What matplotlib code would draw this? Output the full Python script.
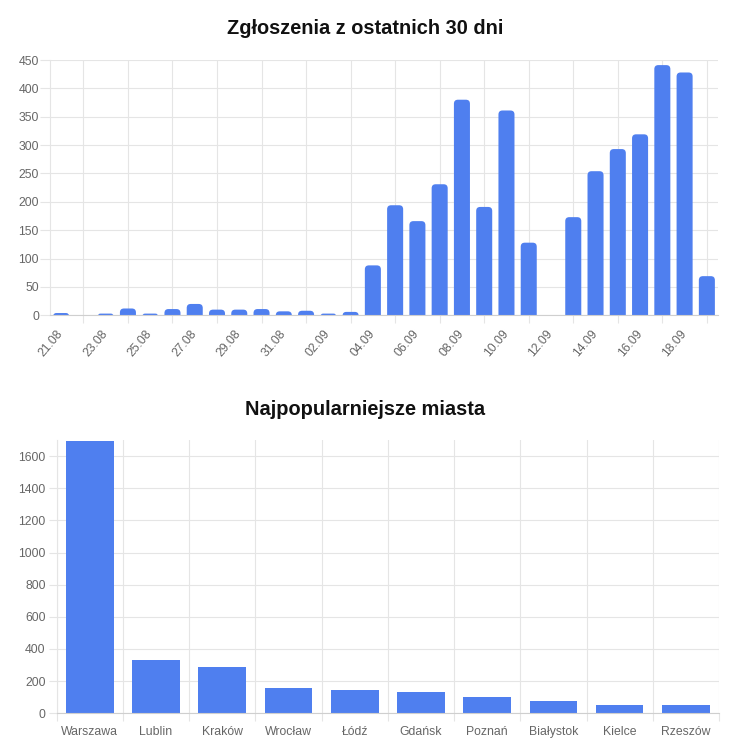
import matplotlib
matplotlib.use("Agg")
import matplotlib.pyplot as plt
from matplotlib.patches import FancyBboxPatch
import numpy as np

plt.rcParams['font.family'] = ['Liberation Sans', 'DejaVu Sans']

# ---- data ----
dates = ["21.08", "22.08", "23.08", "24.08", "25.08", "26.08", "27.08", "28.08",
         "29.08", "30.08", "31.08", "01.09", "02.09", "03.09", "04.09", "05.09",
         "06.09", "07.09", "08.09", "09.09", "10.09", "11.09", "12.09", "13.09",
         "14.09", "15.09", "16.09", "17.09", "18.09", "19.09"]
counts = [4, 0, 3, 12, 3, 11, 20, 10, 10, 11, 7, 8, 3, 6, 88, 194,
          166, 231, 380, 191, 361, 128, 0, 173, 254, 293, 319, 441, 428, 69]

cities = ["Warszawa", "Lublin", "Kraków", "Wrocław", "Łódź", "Gdańsk",
          "Poznań", "Białystok", "Kielce", "Rzeszów"]
city_counts = [1693, 331, 290, 157, 145, 133, 100, 77, 52, 50]

top_yticks = [0, 50, 100, 150, 200, 250, 300, 350, 400, 450]
bottom_yticks = [0, 200, 400, 600, 800, 1000, 1200, 1400, 1600]

BAR = "#4F7FEF"
GRID = "#e5e5e5"
AXIS = "#cfcfcf"
TXT = "#666666"
FS = 8.8
TFS = 14.4
W, H, DPI = 731, 752, 100

fig = plt.figure(figsize=(W / DPI, H / DPI), dpi=DPI)

def frac(l, t, r, b):
    return [l / W, 1 - b / H, (r - l) / W, (b - t) / H]

# ---------------- top chart ----------------
ax1 = fig.add_axes(frac(50, 60, 718, 315.3))
x = np.arange(len(dates))
ax1.set_xlim(-0.5, len(dates) - 0.5)
ax1.set_ylim(0, 450)
bars = ax1.bar(x, counts, width=0.72, color=BAR, zorder=3)

# round top corners of bars (4 px)
fig.canvas.draw()
tr = ax1.transData
px_per_x = tr.transform((1, 0))[0] - tr.transform((0, 0))[0]
px_per_y = tr.transform((0, 1))[1] - tr.transform((0, 0))[1]
aspect = px_per_x / px_per_y
r_px = 4.0
for p in list(bars.patches):
    h = p.get_height()
    if h <= 0:
        p.remove()
        continue
    bx, bw = p.get_x(), p.get_width()
    ext = r_px / px_per_y
    tot_px = (h + ext) * px_per_y
    r_eff = min(r_px, bw * px_per_x / 2, tot_px / 2)
    rp = FancyBboxPatch((bx, -ext), bw, h + ext,
                        boxstyle=f"round,pad=0,rounding_size={r_eff / px_per_x}",
                        mutation_aspect=aspect, facecolor=BAR, edgecolor='none',
                        zorder=3)
    ax1.add_patch(rp)
    p.remove()

ax1.set_yticks(top_yticks)
ax1.set_yticklabels([str(v) for v in top_yticks])
ax1.set_xticks(x[::2])
ax1.set_xticklabels(dates[::2], rotation=50, ha='right', va='center',
                    rotation_mode='anchor')
ax1.set_xticks(x[1::2], minor=True)
ax1.tick_params(axis='x', which='major', length=0, pad=12, labelsize=FS,
                labelcolor=TXT)
ax1.tick_params(axis='x', which='minor', length=6, width=0.8, color=GRID)
ax1.tick_params(axis='y', length=7, width=0.8, color=GRID, pad=1,
                labelsize=FS, labelcolor=TXT)
ax1.grid(True, axis='y', color=GRID, lw=0.8, zorder=0)
ax1.grid(True, axis='x', which='minor', color=GRID, lw=0.8, zorder=0)
for s in ['top', 'right']:
    ax1.spines[s].set_visible(False)
ax1.spines['left'].set_color(GRID)
ax1.spines['left'].set_linewidth(0.8)
ax1.spines['bottom'].set_color(AXIS)
ax1.spines['bottom'].set_linewidth(0.8)
ax1.spines['bottom'].set_zorder(4)

fig.text(0.5, 1 - 29 / H, "Zgłoszenia z ostatnich 30 dni", ha='center',
         va='center', fontsize=TFS, fontweight='bold', color='#111111')

# ---------------- bottom chart ----------------
ax2 = fig.add_axes(frac(56.7, 440, 719, 713.3))
xc = np.arange(len(cities))
ax2.set_xlim(-0.5, len(cities) - 0.5)
ax2.set_ylim(0, 1700)
ax2.bar(xc, city_counts, width=0.72, color=BAR, zorder=3)
ax2.set_yticks(bottom_yticks)
ax2.set_yticklabels([str(v) for v in bottom_yticks])
ax2.set_xticks(xc)
ax2.set_xticklabels(cities)
ax2.set_xticks(np.arange(len(cities) + 1) - 0.5, minor=True)
ax2.tick_params(axis='x', which='major', length=0, pad=9, labelsize=FS,
                labelcolor=TXT)
ax2.tick_params(axis='x', which='minor', length=6, width=0.8, color=GRID)
ax2.tick_params(axis='y', length=6, width=0.8, color=GRID, pad=2,
                labelsize=FS, labelcolor=TXT)
ax2.grid(True, axis='y', color=GRID, lw=0.8, zorder=0)
ax2.grid(True, axis='x', which='minor', color=GRID, lw=0.8, zorder=0)
ax2.spines['top'].set_visible(False)
ax2.spines['right'].set_visible(False)
ax2.spines['left'].set_color(GRID)
ax2.spines['left'].set_linewidth(0.8)
ax2.spines['bottom'].set_color(AXIS)
ax2.spines['bottom'].set_linewidth(0.8)
ax2.spines['bottom'].set_zorder(4)

fig.text(0.5, 1 - 409 / H, "Najpopularniejsze miasta", ha='center',
         va='center', fontsize=TFS, fontweight='bold', color='#111111')

fig.savefig("out.png", dpi=DPI)
